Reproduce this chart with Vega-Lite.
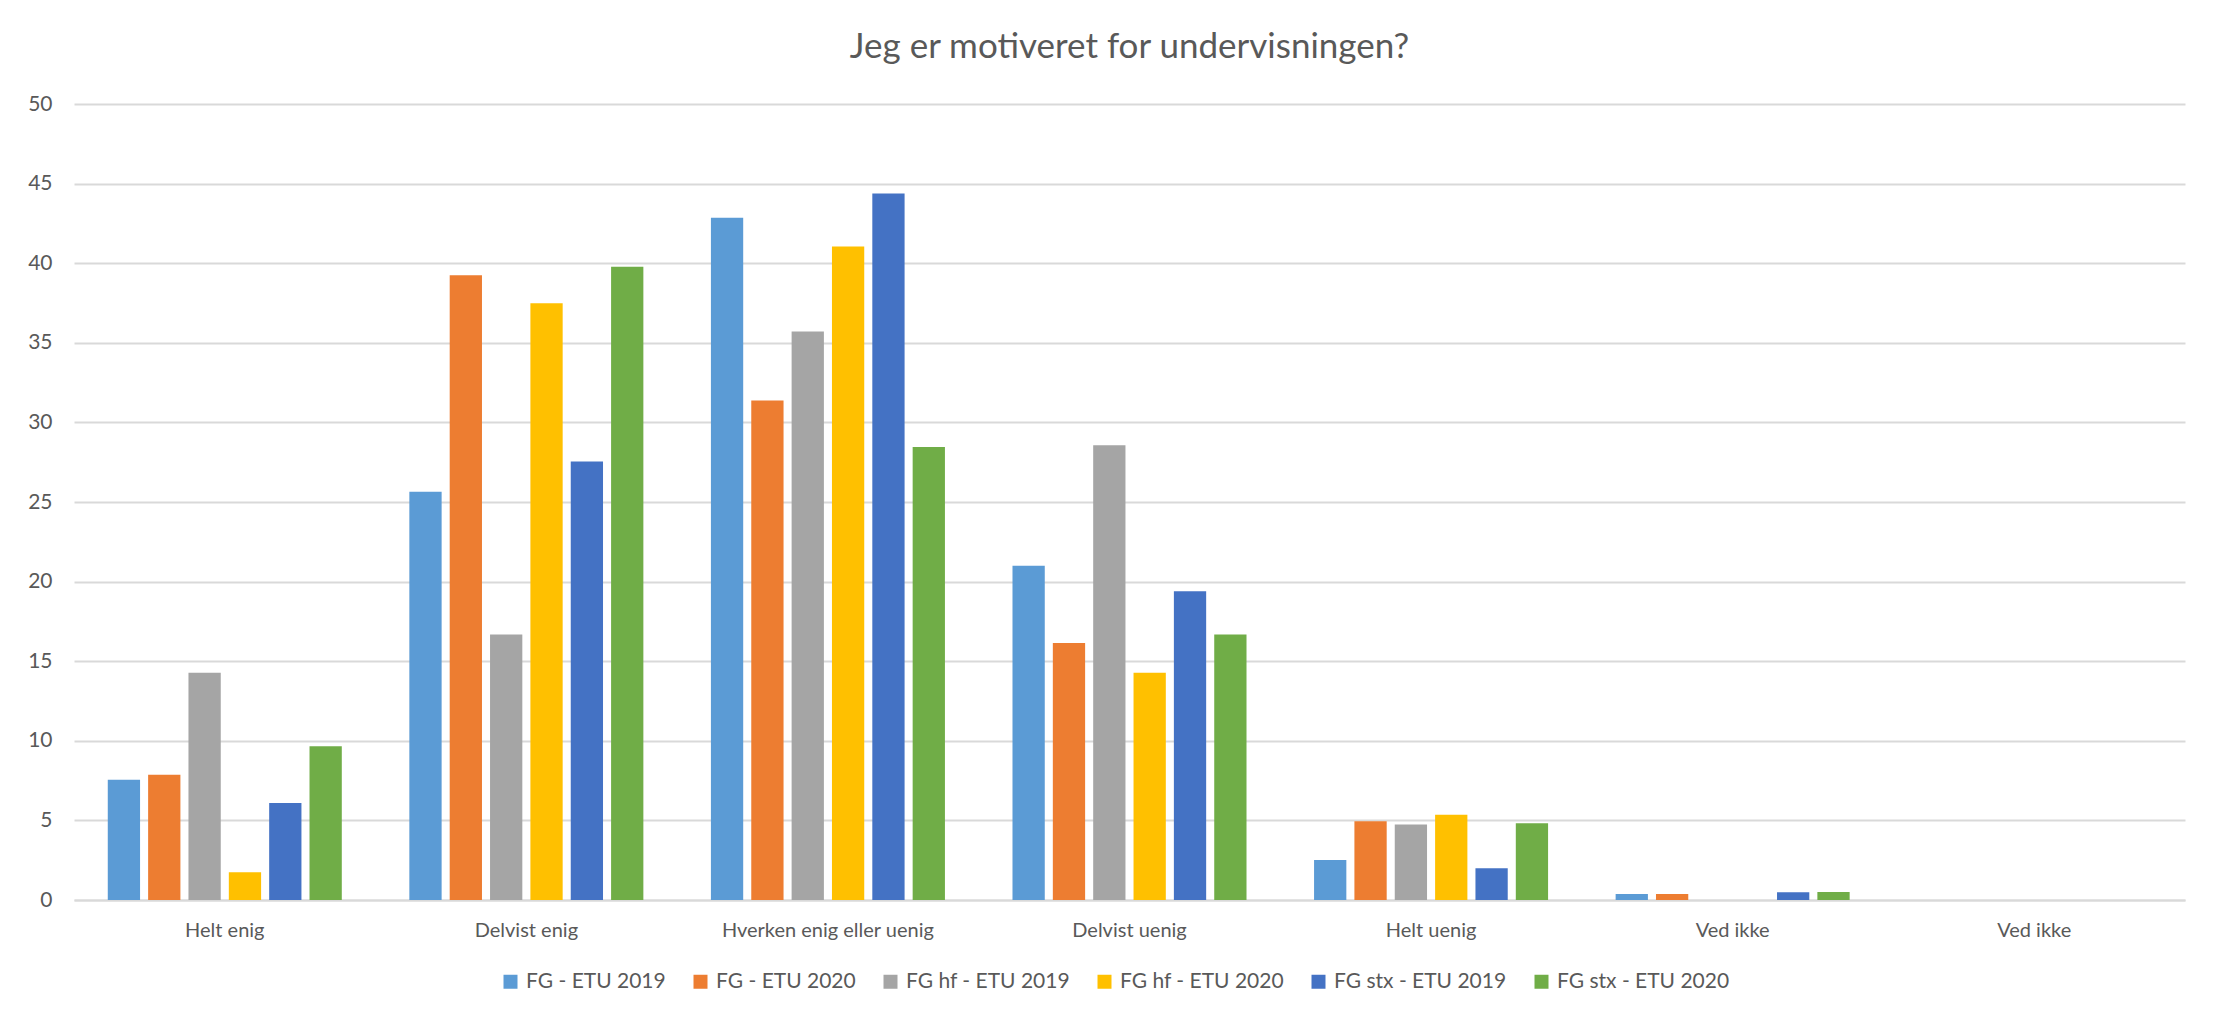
{
  "$schema": "https://vega.github.io/schema/vega-lite/v6.json",
  "width": 2111,
  "height": 796,
  "autosize": {"type": "none"},
  "padding": {"left": 74, "top": 104, "right": 40, "bottom": 118},
  "background": "white",
  "title": {
    "text": "Jeg er motiveret for undervisningen?",
    "font": "Lato",
    "fontSize": 35,
    "fontWeight": "normal",
    "color": "#595959",
    "anchor": "middle",
    "offset": 28
  },
  "data": {
    "values": [
      {"svar": "Helt enig", "serie": "FG - ETU 2019", "pct": 7.55},
      {"svar": "Helt enig", "serie": "FG - ETU 2020", "pct": 7.86},
      {"svar": "Helt enig", "serie": "FG hf - ETU 2019", "pct": 14.28},
      {"svar": "Helt enig", "serie": "FG hf - ETU 2020", "pct": 1.74},
      {"svar": "Helt enig", "serie": "FG stx - ETU 2019", "pct": 6.1},
      {"svar": "Helt enig", "serie": "FG stx - ETU 2020", "pct": 9.66},
      {"svar": "Delvist enig", "serie": "FG - ETU 2019", "pct": 25.64},
      {"svar": "Delvist enig", "serie": "FG - ETU 2020", "pct": 39.25},
      {"svar": "Delvist enig", "serie": "FG hf - ETU 2019", "pct": 16.67},
      {"svar": "Delvist enig", "serie": "FG hf - ETU 2020", "pct": 37.49},
      {"svar": "Delvist enig", "serie": "FG stx - ETU 2019", "pct": 27.54},
      {"svar": "Delvist enig", "serie": "FG stx - ETU 2020", "pct": 39.77},
      {"svar": "Hverken enig eller uenig", "serie": "FG - ETU 2019", "pct": 42.85},
      {"svar": "Hverken enig eller uenig", "serie": "FG - ETU 2020", "pct": 31.37},
      {"svar": "Hverken enig eller uenig", "serie": "FG hf - ETU 2019", "pct": 35.71},
      {"svar": "Hverken enig eller uenig", "serie": "FG hf - ETU 2020", "pct": 41.05},
      {"svar": "Hverken enig eller uenig", "serie": "FG stx - ETU 2019", "pct": 44.38},
      {"svar": "Hverken enig eller uenig", "serie": "FG stx - ETU 2020", "pct": 28.46},
      {"svar": "Delvist uenig", "serie": "FG - ETU 2019", "pct": 21.0},
      {"svar": "Delvist uenig", "serie": "FG - ETU 2020", "pct": 16.14},
      {"svar": "Delvist uenig", "serie": "FG hf - ETU 2019", "pct": 28.57},
      {"svar": "Delvist uenig", "serie": "FG hf - ETU 2020", "pct": 14.28},
      {"svar": "Delvist uenig", "serie": "FG stx - ETU 2019", "pct": 19.4},
      {"svar": "Delvist uenig", "serie": "FG stx - ETU 2020", "pct": 16.67},
      {"svar": "Helt uenig", "serie": "FG - ETU 2019", "pct": 2.52},
      {"svar": "Helt uenig", "serie": "FG - ETU 2020", "pct": 4.95},
      {"svar": "Helt uenig", "serie": "FG hf - ETU 2019", "pct": 4.74},
      {"svar": "Helt uenig", "serie": "FG hf - ETU 2020", "pct": 5.35},
      {"svar": "Helt uenig", "serie": "FG stx - ETU 2019", "pct": 2.0},
      {"svar": "Helt uenig", "serie": "FG stx - ETU 2020", "pct": 4.82},
      {"svar": "Ved ikke", "serie": "FG - ETU 2019", "pct": 0.38},
      {"svar": "Ved ikke", "serie": "FG - ETU 2020", "pct": 0.38},
      {"svar": "Ved ikke", "serie": "FG hf - ETU 2019", "pct": 0},
      {"svar": "Ved ikke", "serie": "FG hf - ETU 2020", "pct": 0},
      {"svar": "Ved ikke", "serie": "FG stx - ETU 2019", "pct": 0.48},
      {"svar": "Ved ikke", "serie": "FG stx - ETU 2020", "pct": 0.5},
      {"svar": "Ved ikke ", "serie": "FG - ETU 2019", "pct": 0},
      {"svar": "Ved ikke ", "serie": "FG - ETU 2020", "pct": 0},
      {"svar": "Ved ikke ", "serie": "FG hf - ETU 2019", "pct": 0},
      {"svar": "Ved ikke ", "serie": "FG hf - ETU 2020", "pct": 0},
      {"svar": "Ved ikke ", "serie": "FG stx - ETU 2019", "pct": 0},
      {"svar": "Ved ikke ", "serie": "FG stx - ETU 2020", "pct": 0}
    ]
  },
  "mark": {"type": "bar"},
  "encoding": {
    "x": {
      "field": "svar",
      "type": "nominal",
      "sort": ["Helt enig", "Delvist enig", "Hverken enig eller uenig", "Delvist uenig", "Helt uenig", "Ved ikke", "Ved ikke "],
      "scale": {"paddingInner": 0.224, "paddingOuter": 0.112},
      "axis": {
        "title": null,
        "labelAngle": 0,
        "labelFont": "Lato",
        "labelFontSize": 20,
        "labelColor": "#595959",
        "labelPadding": 20,
        "labelLimit": 0,
        "ticks": false,
        "domain": true,
        "domainColor": "#d9d9d9",
        "domainWidth": 2
      }
    },
    "xOffset": {
      "field": "serie",
      "type": "nominal",
      "scale": {"paddingInner": 0.2, "paddingOuter": 0}
    },
    "y": {
      "field": "pct",
      "type": "quantitative",
      "scale": {"domain": [0, 50], "nice": false},
      "axis": {
        "title": null,
        "values": [0, 5, 10, 15, 20, 25, 30, 35, 40, 45, 50],
        "labelFont": "Lato",
        "labelFontSize": 21,
        "labelColor": "#595959",
        "labelPadding": 22,
        "ticks": false,
        "domain": false,
        "grid": true,
        "gridColor": "#d9d9d9",
        "gridWidth": 2
      }
    },
    "color": {
      "field": "serie",
      "type": "nominal",
      "scale": {
        "domain": ["FG - ETU 2019", "FG - ETU 2020", "FG hf - ETU 2019", "FG hf - ETU 2020", "FG stx - ETU 2019", "FG stx - ETU 2020"],
        "range": ["#5B9BD5", "#ED7D31", "#A5A5A5", "#FFC000", "#4472C4", "#70AD47"]
      },
      "legend": {
        "title": null,
        "orient": "none",
        "legendX": 426,
        "legendY": 867,
        "direction": "horizontal",
        "symbolType": "square",
        "symbolSize": 196,
        "symbolStrokeWidth": 0,
        "labelFont": "Lato",
        "labelFontSize": 21,
        "labelColor": "#595959",
        "labelOffset": 5,
        "labelLimit": 0,
        "columnPadding": 24
      }
    }
  },
  "config": {
    "view": {"stroke": null}
  }
}
